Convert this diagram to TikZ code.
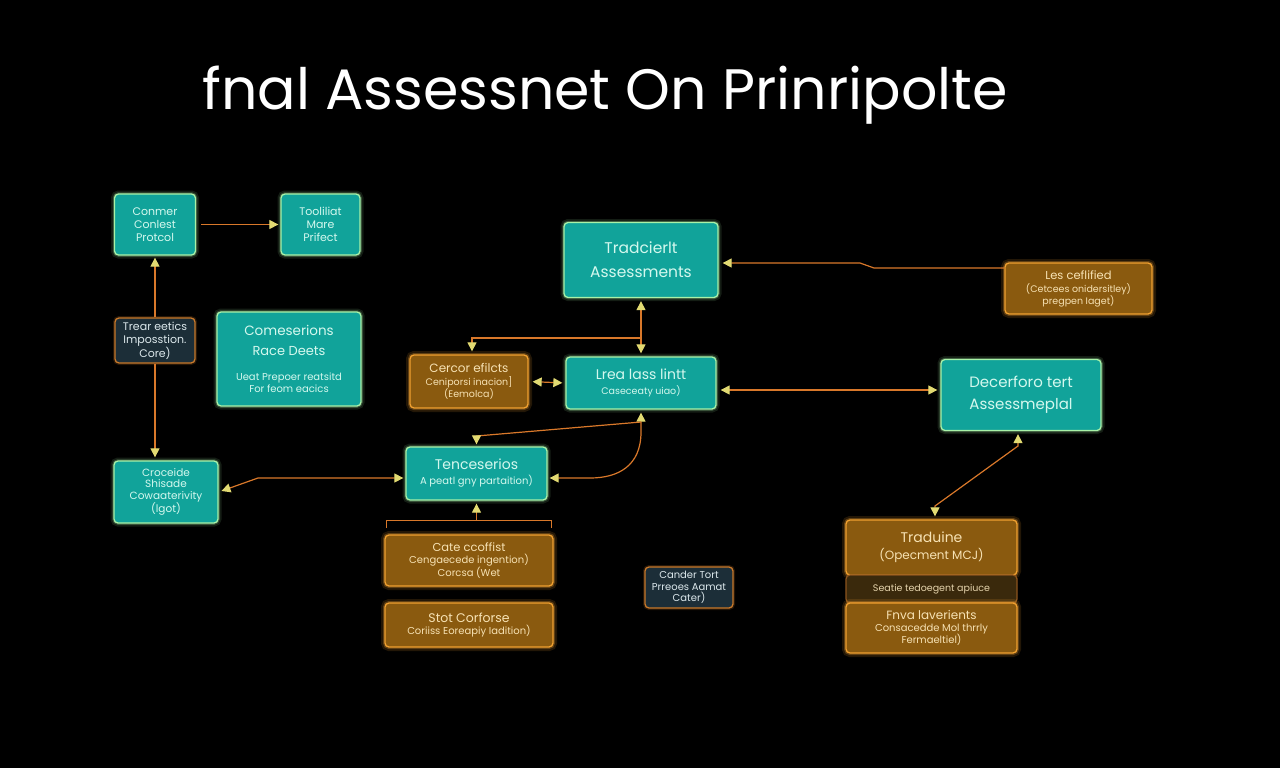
\documentclass[tikz,border=0pt]{standalone}
\usepackage{fontspec}
\setmainfont{Poppins}
\usetikzlibrary{arrows.meta}
\definecolor{tealfill}{HTML}{11A39A}
\definecolor{tealedge}{HTML}{A8F2A8}
\definecolor{tealtext}{HTML}{D4F8EE}
\definecolor{orfill}{HTML}{8A5A0F}
\definecolor{oredge}{HTML}{F0A030}
\definecolor{ortext}{HTML}{F7E2B4}
\definecolor{dkfill}{HTML}{1C2E38}
\definecolor{dkedge}{HTML}{C8782A}
\definecolor{dktext}{HTML}{DCE8EC}
\definecolor{stripfill}{HTML}{3A290C}
\definecolor{linec}{HTML}{D9782A}
\definecolor{tipc}{HTML}{E2DA72}
\newcommand{\fs}[2]{\fontsize{#1}{#2}\selectfont}
\tikzset{
  box/.style={rectangle, rounded corners=4pt, inner sep=0pt, align=center, line width=1.3pt},
  tealbox/.style={box, fill=tealfill, draw=tealedge, text=tealtext,
    preaction={draw=tealedge, line width=7pt, opacity=.12},
    preaction={draw=tealedge, line width=3.5pt, opacity=.25}},
  orbox/.style={box, fill=orfill, draw=oredge, text=ortext,
    preaction={draw=oredge, line width=8pt, opacity=.15},
    preaction={draw=oredge, line width=4pt, opacity=.3}},
  dkbox/.style={box, fill=dkfill, draw=dkedge, text=dktext,
    preaction={draw=dkedge, line width=4pt, opacity=.2}},
  conn/.style={draw=linec, line width=1.2pt},
  tip/.tip={Triangle[color=tipc, length=9pt, width=9pt]},
}
\begin{document}
\begin{tikzpicture}[x=1pt, y=-1pt]
\fill[black] (0,0) rectangle (1280,768);
\useasboundingbox (0,0) rectangle (1280,768);

\node[text=white, font=\fs{57}{60}] (title) at (605,95) {fnal Assessnet On Prinripolte};

% left column
\node[tealbox, minimum width=81pt, minimum height=61pt, font=\fs{11}{13}] (A) at (155,224.5) {Conmer\\Conlest\\Protcol};
\node[tealbox, minimum width=79pt, minimum height=61pt, font=\fs{11}{13}] (B) at (320.5,224.5) {Tooliliat\\Mare\\Prifect};
\node[dkbox, minimum width=80pt, minimum height=45pt, font=\fs{11}{13}] (C) at (155,340.5) {Trear eetics\\Imposstion.\\Core)};
\node[tealbox, minimum width=144pt, minimum height=94pt] (D) at (289,359) {\fs{13.5}{12}Comeserions\\[8pt]\fs{13}{12}Race Deets\\[13pt]\fs{10}{12}Ueat Prepoer reatsitd\\\fs{10}{12}For feom eacics};
\node[tealbox, minimum width=104pt, minimum height=62pt, font=\fs{10.5}{11.5}] (E) at (166,492) {Croceide\\Shisade\\Cowaaterivity\\(lgot)};

% middle
\node[tealbox, minimum width=141pt, minimum height=53pt] (F) at (476.5,473.5) {\fs{14}{12}Tenceserios\\[3pt]\fs{10}{12}A peatl gny partaition)};
\node[orbox, minimum width=168pt, minimum height=51pt] (G) at (469,560.5) {\fs{11.5}{12}Cate ccoffist\\\fs{10}{12}Cengaecede ingention)\\\fs{10}{12}Corcsa (Wet};
\node[orbox, minimum width=168pt, minimum height=44pt] (H) at (469,625) {\fs{12.5}{13}Stot Corforse\\\fs{10}{13}Coriiss Eoreapiy Iadition)};
\node[orbox, minimum width=118pt, minimum height=53pt] (I) at (469,381.5) {\fs{12}{12}Cercor efilcts\\[1pt]\fs{9.5}{12}Ceniporsi inacion]\\\fs{9.5}{12}(Eemolca)};
\node[tealbox, minimum width=154pt, minimum height=75pt, font=\fs{15.5}{24}] (J) at (641,260) {Tradcierlt\\Assessments};
\node[tealbox, minimum width=150pt, minimum height=52pt] (K) at (641,383) {\fs{14}{13}Lrea lass lintt\\[3pt]\fs{9.5}{13}Caseceaty uiao)};
\node[dkbox, minimum width=88pt, minimum height=41pt, font=\fs{10}{11.5}] (N) at (689,587.5) {Cander Tort\\Prreoes Aamat\\Cater)};

% right
\node[orbox, minimum width=147pt, minimum height=51pt] (L) at (1078.5,288.5) {\fs{11.5}{11}Les ceflified\\[1pt]\fs{9.5}{11}(Cetcees onidersitley)\\\fs{9.5}{11}pregpen Iaget)};
\node[tealbox, minimum width=160pt, minimum height=71pt, font=\fs{15}{22}] (M) at (1021,395) {Decerforo tert\\Assessmeplal};
\node[orbox, minimum width=171pt, minimum height=55pt] (O) at (931.5,547.5) {\fs{14}{14}Traduine\\[5pt]\fs{12}{14}(Opecment MCJ)};
\node[box, fill=stripfill, draw=dkedge!70!black, text=ortext!85!gray, minimum width=171pt, minimum height=28pt, font=\fs{9.5}{11}] (S) at (931.5,589) {Seatie tedoegent apiuce};
\node[orbox, minimum width=171pt, minimum height=50pt] (P) at (931.5,628) {\fs{12}{12}Fnva laverients\\\fs{10}{12}Consacedde Mol thrrly\\\fs{10}{12}Fermaeltiel)};

% connectors
\draw[conn, -tip, shorten <=5pt, shorten >=2pt] (A.east) -- (B.west);
\draw[conn, -tip, shorten >=2pt] (C.north) -- (A.south);
\draw[conn, -tip, shorten >=3pt] (C.south) -- (C.south |- E.north);
\draw[conn, tip-tip, shorten <=2pt, shorten >=3pt] ([yshift=-4.5pt]F.west) -- (258,478) -- (E.east);
\draw[conn, tip-tip, shorten <=3pt, shorten >=2pt] (K.south) -- (641,432) .. controls (641,466) and (618,478) .. (590,478) -- ([yshift=-4.5pt]F.east);
\coordinate (kb) at (641,422);
\draw[conn, -tip, shorten >=2pt] (kb) -- (476.5,436) -- (F.north);
\draw[conn, tip-tip, shorten <=3pt, shorten >=3pt] (J.south) -- (K.north);
\coordinate (jk) at (641,338);
\draw[conn, -tip, shorten >=3pt] (jk) -- (472,338) -- ([xshift=3pt]I.north);
\draw[conn, tip-tip, shorten <=4pt, shorten >=3pt] (I.east) -- (K.west);
\draw[conn, tip-tip, shorten <=4pt, shorten >=3pt] ([yshift=-7pt]K.east) -- ([yshift=5pt]M.west);
\draw[conn, -tip, shorten >=4pt] ([yshift=20.5pt]L.west) -- (874,268) -- (860,263) -- ([yshift=-3pt]J.east);
\draw[conn, tip-tip, shorten <=3pt, shorten >=3pt] ([xshift=-3pt]M.south) -- (1018,446) -- (935,506) -- ([xshift=3.5pt]O.north);
\draw[conn, line width=1pt] (386,528) -- (386,520) -- (551,520) -- (551,528);
\coordinate (br) at (476.5,520);
\draw[conn, -tip, shorten >=3pt] (br) -- (F.south);
\end{tikzpicture}
\end{document}
